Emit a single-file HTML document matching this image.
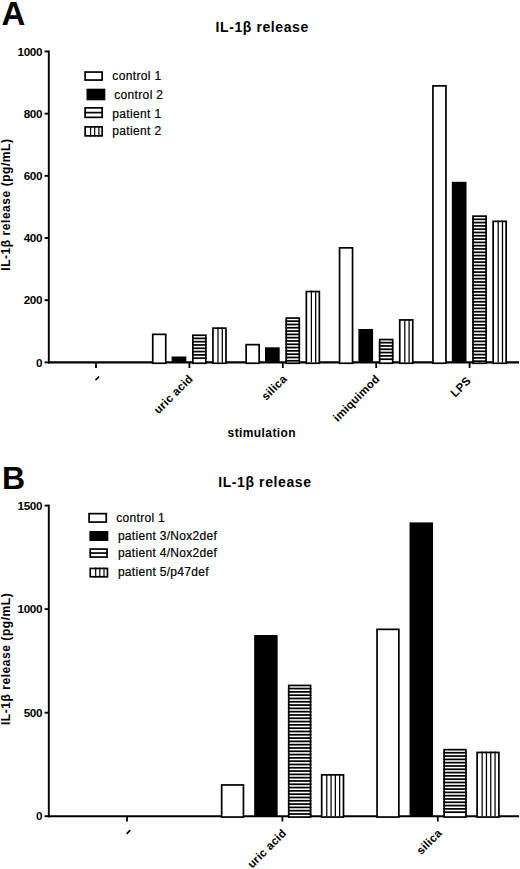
<!DOCTYPE html>
<html><head><meta charset="utf-8"><style>
html,body{margin:0;padding:0;background:#fff;width:520px;height:869px;overflow:hidden}
svg{display:block}
text{font-family:"Liberation Sans",sans-serif;fill:#000}
.b{font-weight:bold}
</style></head><body>
<svg width="520" height="869" viewBox="0 0 520 869">
<rect width="520" height="869" fill="#fff"/>
<text class="b" x="1.6" y="24.8" font-size="33">A</text>
<text class="b" x="262.2" y="32.3" font-size="14" text-anchor="middle" letter-spacing="0.6">IL-1β release</text>
<line x1="48.8" y1="50.5" x2="48.8" y2="363.4" stroke="#000" stroke-width="1.9"/>
<line x1="44.6" y1="362.40" x2="48.8" y2="362.40" stroke="#000" stroke-width="1.9"/>
<text class="b" x="42.1" y="366.60" font-size="11.7" letter-spacing="-0.35" text-anchor="end">0</text>
<line x1="44.6" y1="300.21" x2="48.8" y2="300.21" stroke="#000" stroke-width="1.9"/>
<text class="b" x="42.1" y="304.41" font-size="11.7" letter-spacing="-0.35" text-anchor="end">200</text>
<line x1="44.6" y1="238.02" x2="48.8" y2="238.02" stroke="#000" stroke-width="1.9"/>
<text class="b" x="42.1" y="242.22" font-size="11.7" letter-spacing="-0.35" text-anchor="end">400</text>
<line x1="44.6" y1="175.83" x2="48.8" y2="175.83" stroke="#000" stroke-width="1.9"/>
<text class="b" x="42.1" y="180.03" font-size="11.7" letter-spacing="-0.35" text-anchor="end">600</text>
<line x1="44.6" y1="113.64" x2="48.8" y2="113.64" stroke="#000" stroke-width="1.9"/>
<text class="b" x="42.1" y="117.84" font-size="11.7" letter-spacing="-0.35" text-anchor="end">800</text>
<line x1="44.6" y1="51.45" x2="48.8" y2="51.45" stroke="#000" stroke-width="1.9"/>
<text class="b" x="42.1" y="55.65" font-size="11.7" letter-spacing="-0.35" text-anchor="end">1000</text>
<text class="b" font-size="12" letter-spacing="0.55" text-anchor="middle" transform="translate(9.9,204.6) rotate(-90)">IL-1β release (pg/mL)</text>
<line x1="48" y1="362.40" x2="519" y2="362.40" stroke="#000" stroke-width="2.1"/>
<line x1="96.00" y1="362" x2="96.00" y2="368" stroke="#000" stroke-width="1.8"/>
<line x1="96.00" y1="379.60" x2="98.60" y2="377.00" stroke="#000" stroke-width="1.7" stroke-linecap="round"/>
<line x1="189.40" y1="362" x2="189.40" y2="368" stroke="#000" stroke-width="1.8"/>
<text class="b" font-size="11.5" letter-spacing="0.25" text-anchor="end" transform="translate(193.60,379.50) rotate(-45)">uric acid</text>
<line x1="282.80" y1="362" x2="282.80" y2="368" stroke="#000" stroke-width="1.8"/>
<text class="b" font-size="11.5" letter-spacing="0.25" text-anchor="end" transform="translate(287.60,379.50) rotate(-45)">silica</text>
<line x1="376.20" y1="362" x2="376.20" y2="368" stroke="#000" stroke-width="1.8"/>
<text class="b" font-size="11.5" letter-spacing="0.25" text-anchor="end" transform="translate(380.40,379.50) rotate(-45)">imiquimod</text>
<line x1="469.60" y1="362" x2="469.60" y2="368" stroke="#000" stroke-width="1.8"/>
<text class="b" font-size="11.5" letter-spacing="0.25" text-anchor="end" transform="translate(471.60,381.50) rotate(-45)">LPS</text>
<text class="b" x="261.8" y="437" font-size="12" text-anchor="middle" letter-spacing="0.4">stimulation</text>
<rect x="152.75" y="334.35" width="13.00" height="28.90" fill="#fff" stroke="#000" stroke-width="1.7"/>
<rect x="171.60" y="356.50" width="14.70" height="5.90" fill="#000"/>
<rect x="192.85" y="335.25" width="13.00" height="28.00" fill="#fff" stroke="#000" stroke-width="1.7"/>
<line x1="192.00" y1="338.37" x2="206.70" y2="338.37" stroke="#000" stroke-width="1.75"/>
<line x1="192.00" y1="341.67" x2="206.70" y2="341.67" stroke="#000" stroke-width="1.75"/>
<line x1="192.00" y1="344.97" x2="206.70" y2="344.97" stroke="#000" stroke-width="1.75"/>
<line x1="192.00" y1="348.27" x2="206.70" y2="348.27" stroke="#000" stroke-width="1.75"/>
<line x1="192.00" y1="351.57" x2="206.70" y2="351.57" stroke="#000" stroke-width="1.75"/>
<line x1="192.00" y1="354.88" x2="206.70" y2="354.88" stroke="#000" stroke-width="1.75"/>
<line x1="192.00" y1="358.18" x2="206.70" y2="358.18" stroke="#000" stroke-width="1.75"/>
<rect x="212.95" y="328.15" width="13.00" height="35.10" fill="#fff" stroke="#000" stroke-width="1.7"/>
<line x1="218.00" y1="327.30" x2="218.00" y2="362.40" stroke="#000" stroke-width="1.25"/>
<line x1="222.30" y1="327.30" x2="222.30" y2="362.40" stroke="#000" stroke-width="1.25"/>
<rect x="246.15" y="344.65" width="13.00" height="18.60" fill="#fff" stroke="#000" stroke-width="1.7"/>
<rect x="265.00" y="347.30" width="14.70" height="15.10" fill="#000"/>
<rect x="286.25" y="318.05" width="13.00" height="45.20" fill="#fff" stroke="#000" stroke-width="1.7"/>
<line x1="285.40" y1="321.17" x2="300.10" y2="321.17" stroke="#000" stroke-width="1.75"/>
<line x1="285.40" y1="324.47" x2="300.10" y2="324.47" stroke="#000" stroke-width="1.75"/>
<line x1="285.40" y1="327.77" x2="300.10" y2="327.77" stroke="#000" stroke-width="1.75"/>
<line x1="285.40" y1="331.07" x2="300.10" y2="331.07" stroke="#000" stroke-width="1.75"/>
<line x1="285.40" y1="334.38" x2="300.10" y2="334.38" stroke="#000" stroke-width="1.75"/>
<line x1="285.40" y1="337.68" x2="300.10" y2="337.68" stroke="#000" stroke-width="1.75"/>
<line x1="285.40" y1="340.98" x2="300.10" y2="340.98" stroke="#000" stroke-width="1.75"/>
<line x1="285.40" y1="344.28" x2="300.10" y2="344.28" stroke="#000" stroke-width="1.75"/>
<line x1="285.40" y1="347.58" x2="300.10" y2="347.58" stroke="#000" stroke-width="1.75"/>
<line x1="285.40" y1="350.88" x2="300.10" y2="350.88" stroke="#000" stroke-width="1.75"/>
<line x1="285.40" y1="354.18" x2="300.10" y2="354.18" stroke="#000" stroke-width="1.75"/>
<line x1="285.40" y1="357.48" x2="300.10" y2="357.48" stroke="#000" stroke-width="1.75"/>
<line x1="285.40" y1="360.78" x2="300.10" y2="360.78" stroke="#000" stroke-width="1.75"/>
<rect x="306.35" y="291.55" width="13.00" height="71.70" fill="#fff" stroke="#000" stroke-width="1.7"/>
<line x1="311.40" y1="290.70" x2="311.40" y2="362.40" stroke="#000" stroke-width="1.25"/>
<line x1="315.70" y1="290.70" x2="315.70" y2="362.40" stroke="#000" stroke-width="1.25"/>
<rect x="339.55" y="247.85" width="13.00" height="115.40" fill="#fff" stroke="#000" stroke-width="1.7"/>
<rect x="358.40" y="329.00" width="14.70" height="33.40" fill="#000"/>
<rect x="379.65" y="339.55" width="13.00" height="23.70" fill="#fff" stroke="#000" stroke-width="1.7"/>
<line x1="378.80" y1="342.67" x2="393.50" y2="342.67" stroke="#000" stroke-width="1.75"/>
<line x1="378.80" y1="345.97" x2="393.50" y2="345.97" stroke="#000" stroke-width="1.75"/>
<line x1="378.80" y1="349.27" x2="393.50" y2="349.27" stroke="#000" stroke-width="1.75"/>
<line x1="378.80" y1="352.57" x2="393.50" y2="352.57" stroke="#000" stroke-width="1.75"/>
<line x1="378.80" y1="355.88" x2="393.50" y2="355.88" stroke="#000" stroke-width="1.75"/>
<line x1="378.80" y1="359.18" x2="393.50" y2="359.18" stroke="#000" stroke-width="1.75"/>
<rect x="399.75" y="319.95" width="13.00" height="43.30" fill="#fff" stroke="#000" stroke-width="1.7"/>
<line x1="404.80" y1="319.10" x2="404.80" y2="362.40" stroke="#000" stroke-width="1.25"/>
<line x1="409.10" y1="319.10" x2="409.10" y2="362.40" stroke="#000" stroke-width="1.25"/>
<rect x="432.95" y="85.85" width="13.00" height="277.40" fill="#fff" stroke="#000" stroke-width="1.7"/>
<rect x="451.80" y="181.80" width="14.70" height="180.60" fill="#000"/>
<rect x="473.05" y="216.15" width="13.00" height="147.10" fill="#fff" stroke="#000" stroke-width="1.7"/>
<line x1="472.20" y1="219.28" x2="486.90" y2="219.28" stroke="#000" stroke-width="1.75"/>
<line x1="472.20" y1="222.58" x2="486.90" y2="222.58" stroke="#000" stroke-width="1.75"/>
<line x1="472.20" y1="225.88" x2="486.90" y2="225.88" stroke="#000" stroke-width="1.75"/>
<line x1="472.20" y1="229.18" x2="486.90" y2="229.18" stroke="#000" stroke-width="1.75"/>
<line x1="472.20" y1="232.48" x2="486.90" y2="232.48" stroke="#000" stroke-width="1.75"/>
<line x1="472.20" y1="235.78" x2="486.90" y2="235.78" stroke="#000" stroke-width="1.75"/>
<line x1="472.20" y1="239.08" x2="486.90" y2="239.08" stroke="#000" stroke-width="1.75"/>
<line x1="472.20" y1="242.38" x2="486.90" y2="242.38" stroke="#000" stroke-width="1.75"/>
<line x1="472.20" y1="245.68" x2="486.90" y2="245.68" stroke="#000" stroke-width="1.75"/>
<line x1="472.20" y1="248.98" x2="486.90" y2="248.98" stroke="#000" stroke-width="1.75"/>
<line x1="472.20" y1="252.28" x2="486.90" y2="252.28" stroke="#000" stroke-width="1.75"/>
<line x1="472.20" y1="255.58" x2="486.90" y2="255.58" stroke="#000" stroke-width="1.75"/>
<line x1="472.20" y1="258.88" x2="486.90" y2="258.88" stroke="#000" stroke-width="1.75"/>
<line x1="472.20" y1="262.18" x2="486.90" y2="262.18" stroke="#000" stroke-width="1.75"/>
<line x1="472.20" y1="265.48" x2="486.90" y2="265.48" stroke="#000" stroke-width="1.75"/>
<line x1="472.20" y1="268.78" x2="486.90" y2="268.78" stroke="#000" stroke-width="1.75"/>
<line x1="472.20" y1="272.08" x2="486.90" y2="272.08" stroke="#000" stroke-width="1.75"/>
<line x1="472.20" y1="275.38" x2="486.90" y2="275.38" stroke="#000" stroke-width="1.75"/>
<line x1="472.20" y1="278.68" x2="486.90" y2="278.68" stroke="#000" stroke-width="1.75"/>
<line x1="472.20" y1="281.98" x2="486.90" y2="281.98" stroke="#000" stroke-width="1.75"/>
<line x1="472.20" y1="285.28" x2="486.90" y2="285.28" stroke="#000" stroke-width="1.75"/>
<line x1="472.20" y1="288.58" x2="486.90" y2="288.58" stroke="#000" stroke-width="1.75"/>
<line x1="472.20" y1="291.88" x2="486.90" y2="291.88" stroke="#000" stroke-width="1.75"/>
<line x1="472.20" y1="295.18" x2="486.90" y2="295.18" stroke="#000" stroke-width="1.75"/>
<line x1="472.20" y1="298.48" x2="486.90" y2="298.48" stroke="#000" stroke-width="1.75"/>
<line x1="472.20" y1="301.78" x2="486.90" y2="301.78" stroke="#000" stroke-width="1.75"/>
<line x1="472.20" y1="305.08" x2="486.90" y2="305.08" stroke="#000" stroke-width="1.75"/>
<line x1="472.20" y1="308.38" x2="486.90" y2="308.38" stroke="#000" stroke-width="1.75"/>
<line x1="472.20" y1="311.68" x2="486.90" y2="311.68" stroke="#000" stroke-width="1.75"/>
<line x1="472.20" y1="314.98" x2="486.90" y2="314.98" stroke="#000" stroke-width="1.75"/>
<line x1="472.20" y1="318.28" x2="486.90" y2="318.28" stroke="#000" stroke-width="1.75"/>
<line x1="472.20" y1="321.58" x2="486.90" y2="321.58" stroke="#000" stroke-width="1.75"/>
<line x1="472.20" y1="324.88" x2="486.90" y2="324.88" stroke="#000" stroke-width="1.75"/>
<line x1="472.20" y1="328.18" x2="486.90" y2="328.18" stroke="#000" stroke-width="1.75"/>
<line x1="472.20" y1="331.48" x2="486.90" y2="331.48" stroke="#000" stroke-width="1.75"/>
<line x1="472.20" y1="334.78" x2="486.90" y2="334.78" stroke="#000" stroke-width="1.75"/>
<line x1="472.20" y1="338.08" x2="486.90" y2="338.08" stroke="#000" stroke-width="1.75"/>
<line x1="472.20" y1="341.38" x2="486.90" y2="341.38" stroke="#000" stroke-width="1.75"/>
<line x1="472.20" y1="344.68" x2="486.90" y2="344.68" stroke="#000" stroke-width="1.75"/>
<line x1="472.20" y1="347.98" x2="486.90" y2="347.98" stroke="#000" stroke-width="1.75"/>
<line x1="472.20" y1="351.28" x2="486.90" y2="351.28" stroke="#000" stroke-width="1.75"/>
<line x1="472.20" y1="354.58" x2="486.90" y2="354.58" stroke="#000" stroke-width="1.75"/>
<line x1="472.20" y1="357.88" x2="486.90" y2="357.88" stroke="#000" stroke-width="1.75"/>
<line x1="472.20" y1="361.18" x2="486.90" y2="361.18" stroke="#000" stroke-width="1.75"/>
<rect x="493.15" y="221.35" width="13.00" height="141.90" fill="#fff" stroke="#000" stroke-width="1.7"/>
<line x1="498.20" y1="220.50" x2="498.20" y2="362.40" stroke="#000" stroke-width="1.25"/>
<line x1="502.50" y1="220.50" x2="502.50" y2="362.40" stroke="#000" stroke-width="1.25"/>
<rect x="85.15" y="72.05" width="17.00" height="8.00" fill="#fff" stroke="#000" stroke-width="1.7"/>
<text x="112.3" y="80.2" font-size="12" letter-spacing="0.35" stroke="#000" stroke-width="0.2">control 1</text>
<rect x="86.5" y="88.7" width="18.80" height="11.60" fill="#000"/>
<text x="114.2" y="98.6" font-size="12" letter-spacing="0.35" stroke="#000" stroke-width="0.2">control 2</text>
<rect x="85.15" y="107.85" width="17.00" height="9.50" fill="#fff" stroke="#000" stroke-width="1.7"/>
<line x1="84.3" y1="112.60" x2="103" y2="112.60" stroke="#000" stroke-width="1.7"/>
<text x="112.3" y="117.7" font-size="12" letter-spacing="0.35" stroke="#000" stroke-width="0.2">patient 1</text>
<rect x="85.15" y="126.85" width="17.00" height="9.00" fill="#fff" stroke="#000" stroke-width="1.7"/>
<line x1="90.60" y1="126" x2="90.60" y2="136.7" stroke="#000" stroke-width="1.2"/>
<line x1="94.70" y1="126" x2="94.70" y2="136.7" stroke="#000" stroke-width="1.2"/>
<line x1="98.90" y1="126" x2="98.90" y2="136.7" stroke="#000" stroke-width="1.2"/>
<text x="112.3" y="135.2" font-size="12" letter-spacing="0.35" stroke="#000" stroke-width="0.2">patient 2</text>
<text class="b" x="2" y="489" font-size="32">B</text>
<text class="b" x="264.9" y="487" font-size="14" text-anchor="middle" letter-spacing="0.6">IL-1β release</text>
<line x1="48.8" y1="504.65" x2="48.8" y2="817.2" stroke="#000" stroke-width="1.9"/>
<line x1="44.6" y1="816.20" x2="48.8" y2="816.20" stroke="#000" stroke-width="1.9"/>
<text class="b" x="42.1" y="820.40" font-size="11.7" letter-spacing="-0.35" text-anchor="end">0</text>
<line x1="44.6" y1="712.67" x2="48.8" y2="712.67" stroke="#000" stroke-width="1.9"/>
<text class="b" x="42.1" y="716.87" font-size="11.7" letter-spacing="-0.35" text-anchor="end">500</text>
<line x1="44.6" y1="609.13" x2="48.8" y2="609.13" stroke="#000" stroke-width="1.9"/>
<text class="b" x="42.1" y="613.33" font-size="11.7" letter-spacing="-0.35" text-anchor="end">1000</text>
<line x1="44.6" y1="505.60" x2="48.8" y2="505.60" stroke="#000" stroke-width="1.9"/>
<text class="b" x="42.1" y="509.80" font-size="11.7" letter-spacing="-0.35" text-anchor="end">1500</text>
<text class="b" font-size="12" letter-spacing="0.55" text-anchor="middle" transform="translate(9.9,658.9) rotate(-90)">IL-1β release (pg/mL)</text>
<line x1="48" y1="816.20" x2="519" y2="816.20" stroke="#000" stroke-width="2.1"/>
<line x1="127.00" y1="816" x2="127.00" y2="821.5" stroke="#000" stroke-width="1.8"/>
<line x1="127.20" y1="833.30" x2="129.80" y2="830.70" stroke="#000" stroke-width="1.7" stroke-linecap="round"/>
<line x1="282.40" y1="816" x2="282.40" y2="821.5" stroke="#000" stroke-width="1.8"/>
<text class="b" font-size="11.5" letter-spacing="0.25" text-anchor="end" transform="translate(287.20,833.80) rotate(-45)">uric acid</text>
<line x1="437.80" y1="816" x2="437.80" y2="821.5" stroke="#000" stroke-width="1.8"/>
<text class="b" font-size="11.5" letter-spacing="0.25" text-anchor="end" transform="translate(442.60,833.80) rotate(-45)">silica</text>
<rect x="221.65" y="784.95" width="21.80" height="32.10" fill="#fff" stroke="#000" stroke-width="1.7"/>
<rect x="254.15" y="635.00" width="23.50" height="181.20" fill="#000"/>
<rect x="288.75" y="685.45" width="21.80" height="131.60" fill="#fff" stroke="#000" stroke-width="1.7"/>
<line x1="287.90" y1="688.58" x2="311.40" y2="688.58" stroke="#000" stroke-width="1.75"/>
<line x1="287.90" y1="691.88" x2="311.40" y2="691.88" stroke="#000" stroke-width="1.75"/>
<line x1="287.90" y1="695.17" x2="311.40" y2="695.17" stroke="#000" stroke-width="1.75"/>
<line x1="287.90" y1="698.47" x2="311.40" y2="698.47" stroke="#000" stroke-width="1.75"/>
<line x1="287.90" y1="701.77" x2="311.40" y2="701.77" stroke="#000" stroke-width="1.75"/>
<line x1="287.90" y1="705.07" x2="311.40" y2="705.07" stroke="#000" stroke-width="1.75"/>
<line x1="287.90" y1="708.37" x2="311.40" y2="708.37" stroke="#000" stroke-width="1.75"/>
<line x1="287.90" y1="711.67" x2="311.40" y2="711.67" stroke="#000" stroke-width="1.75"/>
<line x1="287.90" y1="714.97" x2="311.40" y2="714.97" stroke="#000" stroke-width="1.75"/>
<line x1="287.90" y1="718.27" x2="311.40" y2="718.27" stroke="#000" stroke-width="1.75"/>
<line x1="287.90" y1="721.57" x2="311.40" y2="721.57" stroke="#000" stroke-width="1.75"/>
<line x1="287.90" y1="724.87" x2="311.40" y2="724.87" stroke="#000" stroke-width="1.75"/>
<line x1="287.90" y1="728.17" x2="311.40" y2="728.17" stroke="#000" stroke-width="1.75"/>
<line x1="287.90" y1="731.47" x2="311.40" y2="731.47" stroke="#000" stroke-width="1.75"/>
<line x1="287.90" y1="734.77" x2="311.40" y2="734.77" stroke="#000" stroke-width="1.75"/>
<line x1="287.90" y1="738.07" x2="311.40" y2="738.07" stroke="#000" stroke-width="1.75"/>
<line x1="287.90" y1="741.37" x2="311.40" y2="741.37" stroke="#000" stroke-width="1.75"/>
<line x1="287.90" y1="744.67" x2="311.40" y2="744.67" stroke="#000" stroke-width="1.75"/>
<line x1="287.90" y1="747.97" x2="311.40" y2="747.97" stroke="#000" stroke-width="1.75"/>
<line x1="287.90" y1="751.27" x2="311.40" y2="751.27" stroke="#000" stroke-width="1.75"/>
<line x1="287.90" y1="754.57" x2="311.40" y2="754.57" stroke="#000" stroke-width="1.75"/>
<line x1="287.90" y1="757.87" x2="311.40" y2="757.87" stroke="#000" stroke-width="1.75"/>
<line x1="287.90" y1="761.17" x2="311.40" y2="761.17" stroke="#000" stroke-width="1.75"/>
<line x1="287.90" y1="764.47" x2="311.40" y2="764.47" stroke="#000" stroke-width="1.75"/>
<line x1="287.90" y1="767.77" x2="311.40" y2="767.77" stroke="#000" stroke-width="1.75"/>
<line x1="287.90" y1="771.07" x2="311.40" y2="771.07" stroke="#000" stroke-width="1.75"/>
<line x1="287.90" y1="774.37" x2="311.40" y2="774.37" stroke="#000" stroke-width="1.75"/>
<line x1="287.90" y1="777.67" x2="311.40" y2="777.67" stroke="#000" stroke-width="1.75"/>
<line x1="287.90" y1="780.97" x2="311.40" y2="780.97" stroke="#000" stroke-width="1.75"/>
<line x1="287.90" y1="784.27" x2="311.40" y2="784.27" stroke="#000" stroke-width="1.75"/>
<line x1="287.90" y1="787.57" x2="311.40" y2="787.57" stroke="#000" stroke-width="1.75"/>
<line x1="287.90" y1="790.87" x2="311.40" y2="790.87" stroke="#000" stroke-width="1.75"/>
<line x1="287.90" y1="794.17" x2="311.40" y2="794.17" stroke="#000" stroke-width="1.75"/>
<line x1="287.90" y1="797.47" x2="311.40" y2="797.47" stroke="#000" stroke-width="1.75"/>
<line x1="287.90" y1="800.77" x2="311.40" y2="800.77" stroke="#000" stroke-width="1.75"/>
<line x1="287.90" y1="804.07" x2="311.40" y2="804.07" stroke="#000" stroke-width="1.75"/>
<line x1="287.90" y1="807.37" x2="311.40" y2="807.37" stroke="#000" stroke-width="1.75"/>
<line x1="287.90" y1="810.67" x2="311.40" y2="810.67" stroke="#000" stroke-width="1.75"/>
<line x1="287.90" y1="813.97" x2="311.40" y2="813.97" stroke="#000" stroke-width="1.75"/>
<rect x="321.70" y="774.85" width="21.80" height="42.20" fill="#fff" stroke="#000" stroke-width="1.7"/>
<line x1="326.75" y1="774.00" x2="326.75" y2="816.20" stroke="#000" stroke-width="1.25"/>
<line x1="331.05" y1="774.00" x2="331.05" y2="816.20" stroke="#000" stroke-width="1.25"/>
<line x1="335.35" y1="774.00" x2="335.35" y2="816.20" stroke="#000" stroke-width="1.25"/>
<line x1="339.65" y1="774.00" x2="339.65" y2="816.20" stroke="#000" stroke-width="1.25"/>
<rect x="377.05" y="629.35" width="21.80" height="187.70" fill="#fff" stroke="#000" stroke-width="1.7"/>
<rect x="409.55" y="522.40" width="23.50" height="293.80" fill="#000"/>
<rect x="444.15" y="749.65" width="21.80" height="67.40" fill="#fff" stroke="#000" stroke-width="1.7"/>
<line x1="443.30" y1="752.77" x2="466.80" y2="752.77" stroke="#000" stroke-width="1.75"/>
<line x1="443.30" y1="756.07" x2="466.80" y2="756.07" stroke="#000" stroke-width="1.75"/>
<line x1="443.30" y1="759.37" x2="466.80" y2="759.37" stroke="#000" stroke-width="1.75"/>
<line x1="443.30" y1="762.67" x2="466.80" y2="762.67" stroke="#000" stroke-width="1.75"/>
<line x1="443.30" y1="765.97" x2="466.80" y2="765.97" stroke="#000" stroke-width="1.75"/>
<line x1="443.30" y1="769.27" x2="466.80" y2="769.27" stroke="#000" stroke-width="1.75"/>
<line x1="443.30" y1="772.57" x2="466.80" y2="772.57" stroke="#000" stroke-width="1.75"/>
<line x1="443.30" y1="775.87" x2="466.80" y2="775.87" stroke="#000" stroke-width="1.75"/>
<line x1="443.30" y1="779.17" x2="466.80" y2="779.17" stroke="#000" stroke-width="1.75"/>
<line x1="443.30" y1="782.47" x2="466.80" y2="782.47" stroke="#000" stroke-width="1.75"/>
<line x1="443.30" y1="785.77" x2="466.80" y2="785.77" stroke="#000" stroke-width="1.75"/>
<line x1="443.30" y1="789.07" x2="466.80" y2="789.07" stroke="#000" stroke-width="1.75"/>
<line x1="443.30" y1="792.37" x2="466.80" y2="792.37" stroke="#000" stroke-width="1.75"/>
<line x1="443.30" y1="795.67" x2="466.80" y2="795.67" stroke="#000" stroke-width="1.75"/>
<line x1="443.30" y1="798.97" x2="466.80" y2="798.97" stroke="#000" stroke-width="1.75"/>
<line x1="443.30" y1="802.27" x2="466.80" y2="802.27" stroke="#000" stroke-width="1.75"/>
<line x1="443.30" y1="805.57" x2="466.80" y2="805.57" stroke="#000" stroke-width="1.75"/>
<line x1="443.30" y1="808.87" x2="466.80" y2="808.87" stroke="#000" stroke-width="1.75"/>
<line x1="443.30" y1="812.17" x2="466.80" y2="812.17" stroke="#000" stroke-width="1.75"/>
<rect x="477.10" y="752.45" width="21.80" height="64.60" fill="#fff" stroke="#000" stroke-width="1.7"/>
<line x1="482.15" y1="751.60" x2="482.15" y2="816.20" stroke="#000" stroke-width="1.25"/>
<line x1="486.45" y1="751.60" x2="486.45" y2="816.20" stroke="#000" stroke-width="1.25"/>
<line x1="490.75" y1="751.60" x2="490.75" y2="816.20" stroke="#000" stroke-width="1.25"/>
<line x1="495.05" y1="751.60" x2="495.05" y2="816.20" stroke="#000" stroke-width="1.25"/>
<rect x="89.05" y="513.65" width="17.20" height="8.40" fill="#fff" stroke="#000" stroke-width="1.7"/>
<text x="116.3" y="522.0" font-size="12" letter-spacing="0.3" stroke="#000" stroke-width="0.2">control 1</text>
<rect x="89.4" y="531" width="18.90" height="10.00" fill="#000"/>
<text x="117.9" y="540.0" font-size="12" letter-spacing="0.3" stroke="#000" stroke-width="0.2">patient 3/Nox2def</text>
<rect x="90.25" y="549.05" width="16.80" height="8.00" fill="#fff" stroke="#000" stroke-width="1.7"/>
<line x1="89.4" y1="553.05" x2="107.9" y2="553.05" stroke="#000" stroke-width="1.7"/>
<text x="117.9" y="556.6" font-size="12" letter-spacing="0.3" stroke="#000" stroke-width="0.2">patient 4/Nox2def</text>
<rect x="90.25" y="568.45" width="17.20" height="8.30" fill="#fff" stroke="#000" stroke-width="1.7"/>
<line x1="95.70" y1="567.6" x2="95.70" y2="577.6" stroke="#000" stroke-width="1.2"/>
<line x1="99.80" y1="567.6" x2="99.80" y2="577.6" stroke="#000" stroke-width="1.2"/>
<line x1="104.00" y1="567.6" x2="104.00" y2="577.6" stroke="#000" stroke-width="1.2"/>
<text x="117.9" y="575.8" font-size="12" letter-spacing="0.3" stroke="#000" stroke-width="0.2">patient 5/p47def</text>
</svg>
</body></html>
